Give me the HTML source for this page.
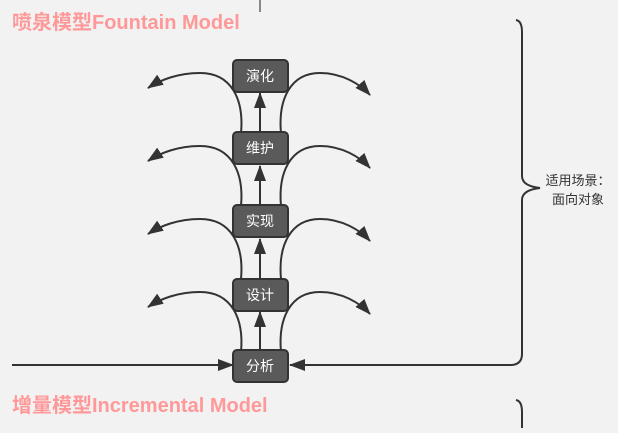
<!DOCTYPE html>
<html><head><meta charset="utf-8"><style>
body{margin:0;width:618px;height:428px;background:#f2f2f2;overflow:hidden;font-family:"Liberation Sans","Noto Sans CJK SC",sans-serif}
</style></head><body>
<svg width="618" height="428" viewBox="0 0 618 428" xmlns="http://www.w3.org/2000/svg">
<defs><marker id="a" markerWidth="10" markerHeight="10" refX="9" refY="5" orient="auto" markerUnits="userSpaceOnUse"><path d="M0,0 L10,5 L0,10 z" fill="#333"/></marker>
<marker id="b" markerWidth="16" markerHeight="12" refX="15" refY="6" orient="auto" markerUnits="userSpaceOnUse"><path d="M0,0 L16,6 L0,12 z" fill="#333"/></marker></defs>
<line x1="260" y1="0" x2="260" y2="12" stroke="#888" stroke-width="2"/>
<text x="12" y="29" font-size="20" font-weight="bold" fill="#ff9999" font-family="Liberation Sans,Noto Sans CJK SC,sans-serif">喷泉模型Fountain Model</text>
<text x="12" y="412" font-size="20" font-weight="bold" fill="#ff9999" font-family="Liberation Sans,Noto Sans CJK SC,sans-serif">增量模型Incremental Model</text>
<g fill="none" stroke="#333" stroke-width="2">
<path d="M516,20 Q522,21 522,32 L522,176 Q522,186 540,188 Q522,190 522,200 L522,354 Q522,364 512,365"/>
<path d="M516,400 Q522,401 522,412 L522,428"/>
<line x1="12" y1="365" x2="233" y2="365" marker-end="url(#b)"/>
<line x1="512" y1="365" x2="290" y2="365" marker-end="url(#b)"/>
</g>
<g fill="none" stroke="#333" stroke-width="2">
<g id="c">
<path d="M241,133 C244,100 232,73 200,73 C178,73 160,80 148,88" marker-end="url(#b)"/>
<path d="M281,133 C278,100 290,73 320,73 C342,73 360,84 370,95" marker-end="url(#b)"/>
<line x1="260" y1="132" x2="260" y2="93" marker-end="url(#b)"/>
</g>
<use href="#c" y="73"/>
<use href="#c" y="146"/>
<use href="#c" y="219"/>
</g>
<g font-size="14" fill="#fff" text-anchor="middle" stroke="#333" stroke-width="2">
<rect x="233" y="60" width="55" height="32" rx="4" fill="#5a5a5a"/>
<rect x="233" y="132" width="55" height="32" rx="4" fill="#5a5a5a"/>
<rect x="233" y="205" width="55" height="32" rx="4" fill="#5a5a5a"/>
<rect x="233" y="279" width="55" height="32" rx="4" fill="#5a5a5a"/>
<rect x="233" y="350" width="55" height="32" rx="4" fill="#5a5a5a"/>
</g>
<g font-size="14" fill="#fff" text-anchor="middle">
<text x="260" y="81">演化</text>
<text x="260" y="153">维护</text>
<text x="260" y="226">实现</text>
<text x="260" y="300">设计</text>
<text x="260" y="371">分析</text>
</g>
<g font-size="13" fill="#333" text-anchor="middle">
<text x="578" y="185">适用场景：</text>
<text x="578" y="204">面向对象</text>
</g>
</svg>
</body></html>
